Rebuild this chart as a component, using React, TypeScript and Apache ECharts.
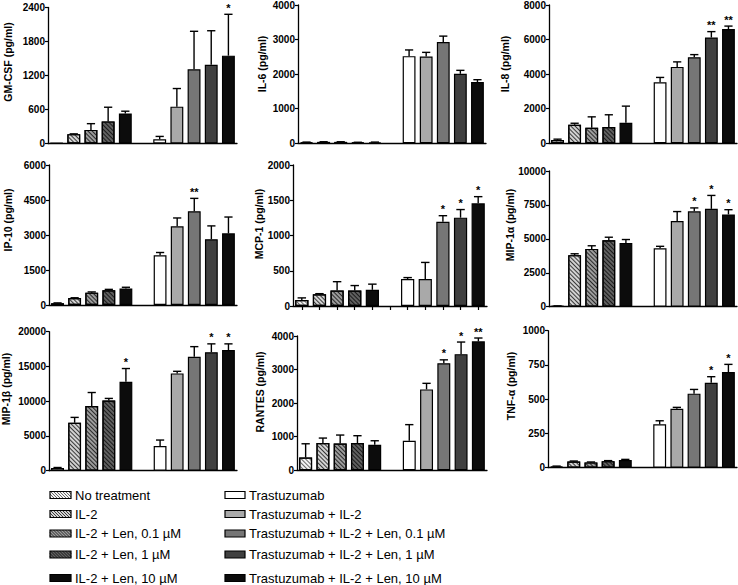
import React, { useEffect, useRef } from 'react';
import * as echarts from 'echarts';

// ---------- categories ----------
const GROUPS = [
  'No treatment', 'IL-2', 'IL-2 + Len, 0.1 µM', 'IL-2 + Len, 1 µM', 'IL-2 + Len, 10 µM',
  '',
  'Trastuzumab', 'Trastuzumab + IL-2', 'Trastuzumab + IL-2 + Len, 0.1 µM',
  'Trastuzumab + IL-2 + Len, 1 µM', 'Trastuzumab + IL-2 + Len, 10 µM',
];

// ---------- data (mean, error, significance) ----------
const GMCSF = [5, 165, 240, 390, 530, null, 75, 650, 1310, 1390, 1550];
const GMCSF_ERR = [0, 5, 110, 250, 40, null, 50, 320, 670, 600, 730];
const GMCSF_SIG = ['', '', '', '', '', '', '', '', '', '', '*'];

const IL6 = [30, 40, 40, 25, 30, null, 2520, 2510, 2930, 2010, 1770];
const IL6_ERR = [5, 5, 5, 5, 5, null, 180, 120, 170, 100, 70];
const IL6_SIG = ['', '', '', '', '', '', '', '', '', '', ''];

const IL8 = [190, 1070, 900, 940, 1190, null, 3530, 4420, 4980, 6120, 6610];
const IL8_ERR = [50, 90, 630, 710, 960, null, 280, 290, 150, 340, 170];
const IL8_SIG = ['', '', '', '', '', '', '', '', '', '**', '**'];

const IP10 = [80, 300, 530, 630, 710, null, 2130, 3370, 4020, 2820, 3070];
const IP10_ERR = [10, 10, 30, 40, 50, null, 120, 360, 550, 570, 700];
const IP10_SIG = ['', '', '', '', '', '', '', '', '**', '', ''];

const MCP1 = [85, 165, 220, 220, 230, null, 383, 383, 1196, 1253, 1456];
const MCP1_ERR = [30, 10, 125, 70, 80, null, 20, 235, 85, 115, 95];
const MCP1_SIG = ['', '', '', '', '', '', '', '', '*', '*', '*'];

const MIP1A = [50, 3800, 4260, 4890, 4700, null, 4310, 6310, 7030, 7210, 6800];
const MIP1A_ERR = [10, 100, 230, 230, 250, null, 140, 700, 250, 990, 350];
const MIP1A_SIG = ['', '', '', '', '', '', '', '', '*', '*', '*'];

const MIP1B = [400, 6900, 9300, 10100, 12800, null, 3550, 14000, 16400, 17050, 17350];
const MIP1B_ERR = [60, 770, 1950, 300, 1900, null, 860, 300, 1450, 1200, 900];
const MIP1B_SIG = ['', '', '', '', '*', '', '', '', '', '*', '*'];

const RANTES = [380, 810, 800, 810, 760, null, 880, 2410, 3190, 3460, 3840];
const RANTES_ERR = [410, 150, 250, 220, 120, null, 480, 180, 100, 360, 100];
const RANTES_SIG = ['', '', '', '', '', '', '', '', '*', '*', '**'];

const TNFA = [8, 45, 38, 47, 55, null, 316, 430, 540, 620, 698];
const TNFA_ERR = [3, 3, 3, 4, 5, null, 26, 10, 31, 44, 56];
const TNFA_SIG = ['', '', '', '', '', '', '', '', '', '*', '*'];

// ---------- y axis titles and scales ----------
const TITLES = ['GM-CSF (pg/ml)', 'IL-6 (pg/ml)', 'IL-8 (pg/ml)', 'IP-10 (pg/ml)', 'MCP-1 (pg/ml)', 'MIP-1α (pg/ml)', 'MIP-1β (pg/ml)', 'RANTES (pg/ml)', 'TNF-α (pg/ml)'];
const Y_MAX = [2400, 4000, 8000, 6000, 2000, 10000, 20000, 4000, 1000];
const Y_STEP = [600, 1000, 2000, 1500, 500, 2500, 5000, 1000, 250];

const MEANS = [GMCSF, IL6, IL8, IP10, MCP1, MIP1A, MIP1B, RANTES, TNFA];
const ERRS = [GMCSF_ERR, IL6_ERR, IL8_ERR, IP10_ERR, MCP1_ERR, MIP1A_ERR, MIP1B_ERR, RANTES_ERR, TNFA_ERR];
const SIGS = [GMCSF_SIG, IL6_SIG, IL8_SIG, IP10_SIG, MCP1_SIG, MIP1A_SIG, MIP1B_SIG, RANTES_SIG, TNFA_SIG];

// ---------- layout (pixels) ----------
// [left, top(max tick), right end of x axis, zero line]
const GRIDS = [
  [48, 7.5, 237, 143.5], [298, 4.5, 486, 143.3], [549, 4.5, 737, 143.3],
  [49, 165, 237, 305], [293, 165, 487, 306], [549, 171, 737, 306.7],
  [49, 331.7, 237, 470.7], [297, 336, 487, 470.3], [548, 330.7, 737, 467.6],
];
const TITLE_POS = [
  [8, 62], [262, 64], [505, 64],
  [8, 220], [259, 224], [510, 225],
  [6, 389], [260, 392], [511, 386],
];

// ---------- styles per group ----------
const STYLES: ({ fill: string; hatch?: string } | null)[] = [
  { fill: '#f4f4f4', hatch: '#6a6a6a' },
  { fill: '#d2d2d2', hatch: '#3a3a3a' },
  { fill: '#9c9c9c', hatch: '#2a2a2a' },
  { fill: '#606060', hatch: '#1a1a1a' },
  { fill: '#0c0c0c' },
  null,
  { fill: '#ffffff' },
  { fill: '#a9a9a9' },
  { fill: '#767676' },
  { fill: '#404040' },
  { fill: '#0c0c0c' },
];

const FONT = '"Liberation Sans", Arial, Helvetica, sans-serif';

function hatchLines(x0: number, y0: number, w: number, h: number, step: number, color: string, lw: number) {
  const out: any[] = [];
  for (let c = -h + step / 2; c < w; c += step) {
    let xs: number, ys: number;
    if (c >= 0) { xs = x0 + c; ys = y0; } else { xs = x0; ys = y0 - c; }
    const t = Math.min(x0 + w - xs, y0 + h - ys);
    if (t <= 0) continue;
    out.push({ type: 'line', silent: true, shape: { x1: xs, y1: ys, x2: xs + t, y2: ys + t }, style: { stroke: color, lineWidth: lw } });
  }
  return out;
}

function itemStyleFor(i: number) {
  const s = STYLES[i]!;
  const st: any = { color: s.fill, borderColor: '#000', borderWidth: 1.2 };
  if (s.hatch) {
    st.decal = {
      symbol: 'rect', symbolSize: 1, dashArrayX: [1, 0], dashArrayY: [1, 2],
      rotation: Math.PI / 4, color: s.hatch,
    };
  }
  return st;
}

function buildOption() {
  const grid: any[] = [];
  const xAxis: any[] = [];
  const yAxis: any[] = [];
  const series: any[] = [];
  const graphic: any[] = [];

  GRIDS.forEach((g, k) => {
    const [l, t, r, z] = g;
    grid.push({ left: l, top: t, width: r - l, height: z - t, containLabel: false });
    xAxis.push({
      type: 'category', gridIndex: k, data: GROUPS,
      axisLine: { lineStyle: { color: '#000', width: 1.3 } },
      axisTick: k === 4 ? { show: true, alignWithLabel: true, interval: 0, length: 4, lineStyle: { color: '#000', width: 1.2 } } : { show: false },
      axisLabel: { show: false },
      splitLine: { show: false },
    });
    yAxis.push({
      type: 'value', gridIndex: k, min: 0, max: Y_MAX[k], interval: Y_STEP[k],
      axisLine: { show: true, lineStyle: { color: '#000', width: 1.3 } },
      axisTick: { show: true, length: 3, lineStyle: { color: '#000', width: 1.2 } },
      axisLabel: { color: '#000', fontSize: 10, fontWeight: 'bold', fontFamily: FONT, margin: 3, formatter: (v: number) => String(v) },
      splitLine: { show: false },
    });
    const mean = MEANS[k];
    const err = ERRS[k];
    const sig = SIGS[k];
    series.push({
      type: 'bar', xAxisIndex: k, yAxisIndex: k, barWidth: '75%',
      data: mean.map((v, i) => (v == null ? '-' : { value: v, itemStyle: itemStyleFor(i) })),
      emphasis: { disabled: true },
    });
    const ebData: any[] = [];
    mean.forEach((v, i) => { if (v != null) ebData.push([i, v, err[i] as number]); });
    series.push({
      type: 'custom', xAxisIndex: k, yAxisIndex: k, z: 5,
      data: ebData,
      encode: { x: 0, y: 1 },
      renderItem: (params: any, api: any) => {
        const i = api.value(0);
        const m = api.value(1);
        const e = api.value(2);
        const base = api.coord([i, m]);
        const top = api.coord([i, m + e]);
        const w = api.size([1, 0])[0];
        const cap = w * 0.24;
        const children: any[] = [];
        if (e > 0) {
          children.push({ type: 'line', shape: { x1: top[0], y1: base[1], x2: top[0], y2: top[1] }, style: { stroke: '#000', lineWidth: 1.4 } });
          children.push({ type: 'line', shape: { x1: top[0] - cap, y1: top[1], x2: top[0] + cap, y2: top[1] }, style: { stroke: '#000', lineWidth: 1.4 } });
        }
        const s = sig[i];
        if (s) {
          children.push({ type: 'text', x: top[0], y: top[1] - 1, style: { text: s, fill: '#000', font: `bold 11px ${FONT}`, align: 'center', verticalAlign: 'bottom' } });
        }
        return { type: 'group', children };
      },
    });
    graphic.push({
      type: 'text', x: TITLE_POS[k][0], y: TITLE_POS[k][1], rotation: Math.PI / 2,
      style: { text: TITLES[k], fill: '#000', font: `bold 10.5px ${FONT}`, align: 'center', verticalAlign: 'middle' },
    });
  });

  // legend
  const rowsY = [495, 514, 533.5, 554.5, 578];
  const cols = [[50, 75], [225, 249]];
  for (let i = 0; i < GROUPS.length; i++) {
    if (i === 5) continue;
    const col = i < 5 ? 0 : 1;
    const row = i < 5 ? i : i - 6;
    const sx = cols[col][0];
    const sw = col === 0 ? 21 : 20;
    const sh = 7;
    const sy = rowsY[row] - sh / 2;
    const s = STYLES[i]!;
    graphic.push({ type: 'rect', shape: { x: sx, y: sy, width: sw, height: sh }, style: { fill: s.fill, stroke: 'none' } });
    if (s.hatch) graphic.push(...hatchLines(sx, sy, sw, sh, 3, s.hatch, 1));
    graphic.push({ type: 'rect', shape: { x: sx, y: sy, width: sw, height: sh }, style: { fill: 'none', stroke: '#000', lineWidth: 1.2 } });
    graphic.push({
      type: 'text', x: cols[col][1], y: rowsY[row],
      style: { text: GROUPS[i], fill: '#000', font: `13px ${FONT}`, align: 'left', verticalAlign: 'middle' },
    });
  }

  return { animation: false, backgroundColor: '#ffffff', grid, xAxis, yAxis, series, graphic };
}

export default function App() {
  const ref = useRef<HTMLDivElement>(null);
  useEffect(() => {
    if (!ref.current) return;
    const chart = echarts.init(ref.current, null, { renderer: 'svg' });
    chart.setOption(buildOption() as any);
    return () => chart.dispose();
  }, []);
  return <div ref={ref} style={{ position: 'fixed', left: 0, top: 0, width: 738, height: 585, background: '#fff' }} />;
}
